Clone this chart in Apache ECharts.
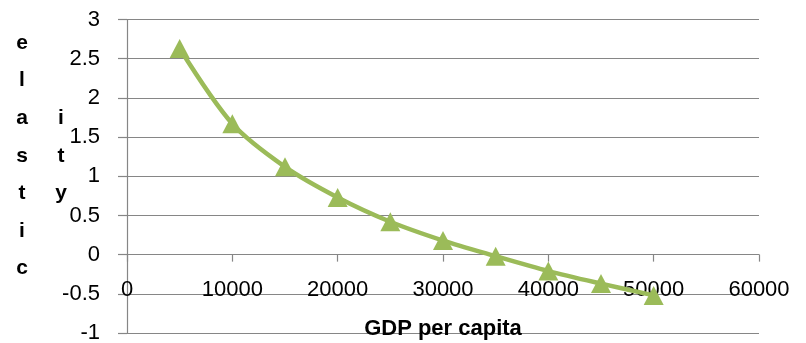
<!DOCTYPE html>
<html>
<head>
<meta charset="utf-8">
<script src="https://cdn.jsdelivr.net/npm/echarts@6/dist/echarts.min.js"></script>
<style>
  html, body { margin: 0; padding: 0; background: #fff; }
  #chart { width: 806px; height: 343px; }
</style>
</head>
<body>
<div id="chart"></div>
<script>
// GDP per capita (x) and income elasticity (y)
const gdpPerCapita = [5000, 10000, 15000, 20000, 25000, 30000, 35000, 40000, 45000, 50000];
const elasticity = [2.63, 1.67, 1.12, 0.73, 0.42, 0.18, -0.02, -0.21, -0.37, -0.52];

// Axis title letters, stacked in two columns
const titleCol1 = ['e', 'l', 'a', 's', 't', 'i', 'c'];
const titleCol2 = ['i', 't', 'y'];

const FONT = '"Liberation Sans", Arial, sans-serif';
const GRAY = '#868686';

const chart = echarts.init(document.getElementById('chart'), null, { renderer: 'canvas' });

const letterEls = [];
const rowTop = 43, rowStep = 37.6;
titleCol1.forEach((ch, i) => {
  letterEls.push({
    type: 'text', x: 22, y: rowTop + i * rowStep,
    style: { text: ch, font: 'bold 21px ' + FONT, fill: '#000', align: 'center', verticalAlign: 'middle' }
  });
});
titleCol2.forEach((ch, i) => {
  letterEls.push({
    type: 'text', x: 61, y: rowTop + (i + 2) * rowStep,
    style: { text: ch, font: 'bold 21px ' + FONT, fill: '#000', align: 'center', verticalAlign: 'middle' }
  });
});

const GRID_BOTTOM = 10;

function buildOption(xOffset) {
  return {
    animation: false,
    backgroundColor: '#fff',
    grid: { left: 127, right: 47, top: 19.5, bottom: GRID_BOTTOM, containLabel: false, outerBoundsMode: 'none' },
    xAxis: {
      type: 'value', min: 0, max: 60000, interval: 10000,
      position: 'bottom', offset: xOffset,
      name: 'GDP per capita', nameLocation: 'middle', nameGap: 63,
      nameTextStyle: { fontFamily: FONT, fontWeight: 'bold', fontSize: 22, color: '#000' },
      axisLine: { onZero: false, lineStyle: { color: GRAY, width: 1.2 } },
      axisTick: { show: true, inside: false, length: 7, lineStyle: { color: GRAY, width: 1.2 } },
      axisLabel: { margin: 24, fontFamily: FONT, fontSize: 22, color: '#000', formatter: v => String(v) },
      splitLine: { show: false }
    },
    yAxis: {
      type: 'value', min: -1, max: 3, interval: 0.5,
      axisLine: { show: true, onZero: false, lineStyle: { color: GRAY, width: 1.2 } },
      axisTick: { show: true, inside: false, length: 9, lineStyle: { color: GRAY, width: 1.2 } },
      axisLabel: { margin: 27, fontFamily: FONT, fontSize: 22, color: '#000', formatter: v => String(v) },
      splitLine: { show: true, lineStyle: { color: GRAY, width: 1.2 } }
    },
    graphic: letterEls,
    series: [{
      type: 'line',
      data: gdpPerCapita.map((x, i) => [x, elasticity[i]]),
      smooth: 0.3,
      symbol: 'triangle',
      symbolSize: [20, 19],
      showSymbol: true,
      lineStyle: { color: '#9BBB59', width: 4.5 },
      itemStyle: { color: '#9BBB59', borderWidth: 0 },
      z: 5
    }]
  };
}

chart.setOption(buildOption(0));
// Move the horizontal axis up so it crosses the vertical axis at zero
const zeroY = chart.convertToPixel({ yAxisIndex: 0 }, 0);
const bottomY = chart.getHeight() - GRID_BOTTOM;
chart.setOption(buildOption(zeroY - bottomY));
</script>
</body>
</html>
